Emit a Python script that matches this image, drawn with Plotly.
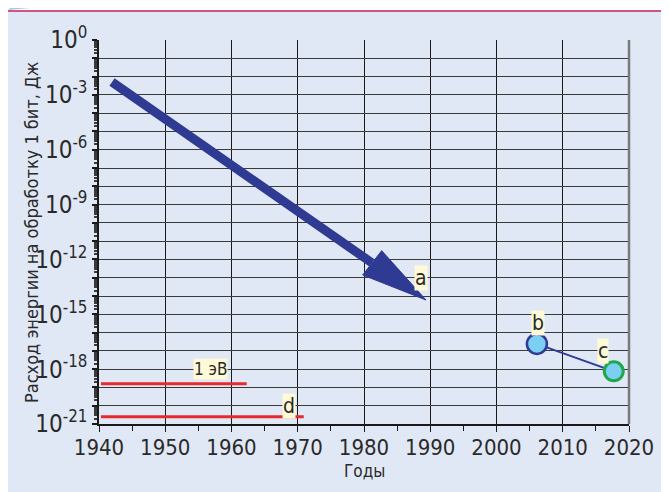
import math
import plotly.graph_objects as go

# ---- data ----
years_ticks = [1940, 1950, 1960, 1970, 1980, 1990, 2000, 2010, 2020]
decades = list(range(0, -22, -1))
label_decades = [0, -3, -6, -9, -12, -15, -18, -21]

# trend arrow (a)
arrow_shaft_x = [1941.96, 1981.2]
arrow_shaft_logy = [-2.30, -12.19]
arrow_head_x = [1982.67, 1989.36, 1979.8, 1982.67]
arrow_head_logy = [-11.52, -14.22, -12.85, -11.52]

# points b and c
bc_x = [2006.1, 2017.7]
bc_y = [10 ** -16.62, 10 ** -18.12]

# reference lines
ev_x = [1940.3, 1962.3]
ev_y = [1.6e-19, 1.6e-19]
d_x = [1940.3, 1970.9]
d_y = [2.5e-21, 2.5e-21]

# labels
labels = [
    ("a", 1988.6, 1e-13, 21),
    ("b", 2006.3, 10 ** -15.5, 21),
    ("c", 2016.1, 1e-17, 21),
    ("d", 1968.7, 1e-20, 21),
    ("1 эВ", 1956.9, 1e-18, 17),
]

BLUE = "#2F3A93"
RED = "#E62A2E"
PLOT_BG = "#FEF9D6"
OUTER_BG = "#E1E8F5"
FONT = "DejaVu Sans Condensed, Liberation Sans Narrow, sans-serif"
TXT = "#2a2a2a"

# page body has an 8px margin: work in figure coordinates shifted by 8
OFF = 8
W, H = 669 - OFF, 492 - OFF
L, R_EDGE, T, B_EDGE = 99 - OFF, 629 - OFF, 40 - OFF, 424 - OFF
PW, PH = R_EDGE - L, B_EDGE - T

fig = go.Figure()

fig.add_trace(go.Scatter(x=ev_x, y=ev_y, mode="lines",
                         line=dict(color=RED, width=3), hoverinfo="skip"))
fig.add_trace(go.Scatter(x=d_x, y=d_y, mode="lines",
                         line=dict(color=RED, width=3), hoverinfo="skip"))

fig.add_trace(go.Scatter(x=arrow_shaft_x, y=[10 ** v for v in arrow_shaft_logy],
                         mode="lines", line=dict(color=BLUE, width=9), hoverinfo="skip"))
fig.add_trace(go.Scatter(x=arrow_head_x, y=[10 ** v for v in arrow_head_logy],
                         mode="lines", fill="toself", fillcolor=BLUE,
                         line=dict(color=BLUE, width=1), hoverinfo="skip"))

fig.add_trace(go.Scatter(x=bc_x, y=bc_y, mode="lines",
                         line=dict(color=BLUE, width=2), hoverinfo="skip"))
fig.add_trace(go.Scatter(x=[bc_x[0]], y=[bc_y[0]], mode="markers",
                         marker=dict(size=20, color="#7BCFF2", line=dict(color=BLUE, width=2.5)),
                         hoverinfo="skip"))
fig.add_trace(go.Scatter(x=[bc_x[1]], y=[bc_y[1]], mode="markers",
                         marker=dict(size=19, color="#7BCFF2", line=dict(color="#1EA84B", width=3)),
                         hoverinfo="skip"))


def px_x(p):
    return (p - OFF - L) / PW


def px_y(p):
    return (B_EDGE - (p - OFF)) / PH


annotations = []
for txt, x, y, size in labels:
    annotations.append(dict(x=x, y=math.log10(y), xref="x", yref="y", text=txt,
                            showarrow=False, bgcolor=PLOT_BG, borderpad=0,
                            xanchor="center", yanchor="middle",
                            font=dict(family=FONT, size=size, color=TXT)))

annotations.append(dict(x=px_x(31), y=px_y(232), xref="paper", yref="paper", textangle=-90,
                        xanchor="center", yanchor="middle",
                        text="Расход энергии на обработку 1 бит, Дж", showarrow=False,
                        font=dict(family=FONT, size=18, color=TXT)))
annotations.append(dict(x=px_x(364), y=px_y(471), xref="paper", yref="paper",
                        xanchor="center", yanchor="middle",
                        text="Годы", showarrow=False,
                        font=dict(family=FONT, size=17, color=TXT)))

shapes = [
    # outer panel with crimson border
    dict(type="rect", xref="paper", yref="paper", layer="below",
         x0=px_x(7), x1=px_x(720), y0=px_y(540), y1=px_y(11),
         fillcolor=OUTER_BG, line=dict(color="#C81F5D", width=1.5)),
    # decorative swoosh
    dict(type="path", xref="paper", yref="paper", layer="below",
         path=f"M {px_x(8)},{px_y(10)} Q {px_x(14)},{px_y(3)} {px_x(30)},{px_y(8)} Z",
         fillcolor="#A9C6E6", line=dict(width=0)),
    # right edge of plot
    dict(type="line", xref="paper", yref="paper", x0=1, x1=1, y0=0, y1=1,
         line=dict(color="#7a7a7a", width=2.5)),
]

fig.update_layout(
    width=W, height=H,
    margin=dict(l=L, r=W - R_EDGE, t=T, b=H - B_EDGE, autoexpand=False),
    paper_bgcolor="white", plot_bgcolor=PLOT_BG,
    showlegend=False,
    annotations=annotations, shapes=shapes,
    font=dict(family=FONT, color=TXT),
)

fig.update_xaxes(
    range=[1940, 2020], tickvals=years_ticks, ticktext=[str(v) for v in years_ticks],
    showgrid=True, gridcolor="#1a1a1a", gridwidth=1.2,
    showline=True, linecolor="#1a1a1a", linewidth=1.5,
    ticks="outside", ticklen=6, tickcolor="#1a1a1a", tickwidth=1.2,
    minor=dict(dtick=5, ticks="outside", ticklen=5, tickcolor="#1a1a1a", showgrid=False),
    tickfont=dict(family=FONT, size=22, color=TXT), zeroline=False,
    ticklabelstandoff=-3,
    automargin=False,
)

fig.update_yaxes(
    type="log", range=[-21, 0],
    tickvals=[10 ** d for d in decades],
    ticktext=[("10<sup>%d</sup>" % d) if d in label_decades else "" for d in decades],
    showgrid=True, gridcolor="#3a3a3a", gridwidth=1.2,
    showline=True, linecolor="#1a1a1a", linewidth=1.5,
    ticks="outside", ticklen=5, tickcolor="#1a1a1a", tickwidth=1.5,
    minor=dict(dtick="D1", ticks="outside", ticklen=3, tickcolor="#3a3a3a", showgrid=False),
    tickfont=dict(family=FONT, size=24, color=TXT), zeroline=False,
    automargin=False,
)

fig.write_html("out.html")
